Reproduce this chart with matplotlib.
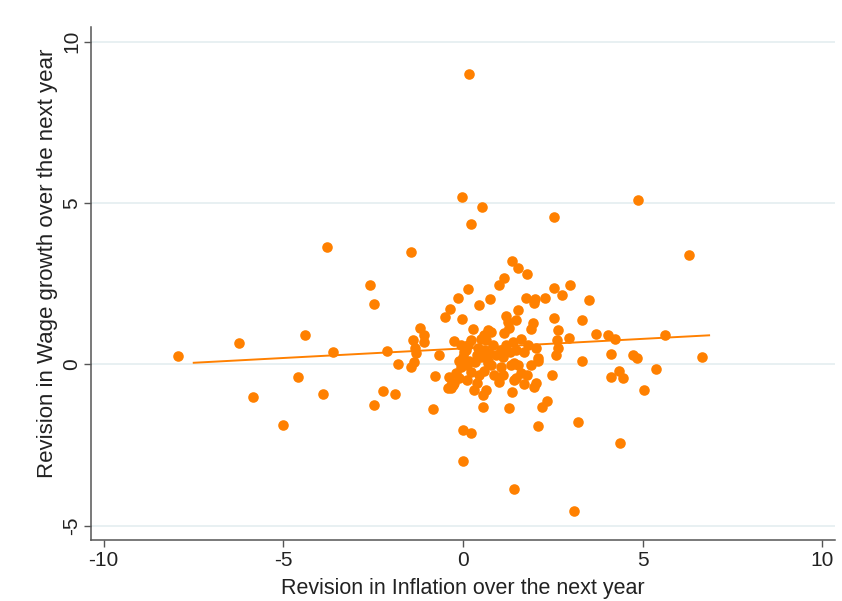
import numpy as np
import matplotlib
matplotlib.use("Agg")
import matplotlib.pyplot as plt

plt.rcParams["font.family"] = ["Liberation Sans", "DejaVu Sans"]
plt.rcParams["axes.unicode_minus"] = False

# revision in inflation (x) and wage growth (y) over the next year
infl = [
    -7.94, -6.24, -5.85, -5.01, -4.60, -4.40, -3.90, -3.79, -3.62, -2.59,
    -2.48, -2.48, -2.23, -2.12, -1.89, -1.81, -1.45, -1.45, -1.36, -1.39,
    -1.34, -1.31, -1.20, -1.09, -1.09, -0.78, -0.84, -0.67,
    -0.50, -0.36, -0.14, 0.14, -0.03, 0.45, 0.75, 1.00, 1.14, 1.36,
    1.53, 1.78, 1.75, 2.01, 1.98, 2.28, 2.53, 2.76, 2.98, 1.53,
    1.20, 1.25, 1.48, 1.28, 1.95, 1.89, 2.53, 2.65, 0.28, 0.70,
    0.78, 0.58, 0.50, 1.14, -0.25, 0.14, 0.08, 0.00, 0.17, 0.42,
    0.58, 0.72, 0.50, 0.70, 1.06, 1.11, 1.39, 1.62, 1.48, 2.03,
    2.09, 2.62, 2.65, 2.59, 2.95, 3.31, 3.31,
    -0.19, -0.06, -0.33, -0.25, -0.28, 0.22, 0.45, 0.58, 0.70, 0.31,
    0.56, 0.64, 0.56, 1.06, 1.11, 1.34, 1.53, 1.62, 1.48, 1.00,
    1.42, 1.70, 1.98, 2.03, 1.36, 1.28, 2.09, 2.20, 2.34, 2.48,
    2.09, 1.70, 1.42, 0.00, 0.22, 0.00, 3.20,
    -0.06, 0.03, -0.11, 0.11, 0.33, 0.39, 0.22, 0.64, 0.84, 0.92,
    0.78, 0.86, 0.39, 0.11, -0.11, -0.39, 1.20, 1.31, 1.81, 1.89,
    1.78, -0.42, -0.33,
    3.51, 3.70, 4.04, 4.23, 4.12, 4.12, 4.35, 4.46, 4.74, 4.85,
    5.04, 5.38, 5.63, 6.66, 4.37, 3.09, 1.42,
    0.17, -0.03, 0.53, 0.22, 2.53, 4.87, 6.30,
]
wage = [
    0.25, 0.65, -1.02, -1.88, -0.40, 0.90, -0.93, 3.64, 0.37, 2.47,
    1.88, -1.27, -0.83, 0.40, -0.93, 0.00, 3.49, -0.09, 0.06, 0.77,
    0.52, 0.34, 1.14, 0.90, 0.68, -0.37, -1.39, 0.28,
    1.48, 1.70, 2.07, 2.35, 1.42, 1.85, 2.04, 2.47, 2.69, 3.21,
    2.99, 2.81, 2.07, 2.01, 1.91, 2.07, 2.38, 2.16, 2.47, 1.67,
    1.51, 1.30, 1.36, 1.14, 1.27, 1.11, 1.45, 1.05, 1.11, 1.05,
    0.99, 0.90, 0.80, 0.96, 0.71, 0.59, 0.43, 0.22, 0.12, 0.52,
    0.43, 0.34, 0.22, 0.12, 0.43, 0.22, 0.68, 0.80, 0.43, 0.52,
    0.19, 0.74, 0.52, 0.28, 0.83, 1.39, 0.12,
    -0.28, -0.09, -0.74, -0.59, -0.65, -0.25, -0.34, -0.19, 0.03, -0.80,
    -0.96, -0.80, -1.33, -0.09, -0.34, -0.03, -0.03, -0.28, -0.43, -0.56,
    -0.49, -0.62, -0.71, -0.59, -0.86, -1.36, -1.91, -1.33, -1.14, -0.34,
    0.12, 0.37, 0.03, -2.04, -2.13, -2.99, -1.79,
    0.59, 0.37, 0.12, -0.03, 0.06, 0.28, 0.74, 0.74, 0.59, 0.28,
    -0.03, -0.34, -0.59, -0.49, -0.43, -0.40, 0.59, 0.37, 0.59, -0.03,
    -0.34, -0.74, -0.65,
    1.98, 0.93, 0.90, 0.80, 0.31, -0.40, -0.19, -0.43, 0.28, 0.19,
    -0.80, -0.15, 0.90, 0.22, -2.44, -4.54, -3.86,
    8.98, 5.19, 4.88, 4.35, 4.57, 5.09, 3.40,
]

# fitted line end points
fit_x = [-7.49, 6.85]
fit_y = [0.05, 0.90]

orange = "#ff8000"

fig = plt.figure(figsize=(8.42, 6.01), dpi=100)
ax = fig.add_axes([0.108, 0.1015, 0.884, 0.853])

ax.set_xlim(-10.35, 10.36)
ax.set_ylim(-5.44, 10.44)

ax.set_yticks([-5, 0, 5, 10])
ax.set_xticks([-10, -5, 0, 5, 10])
ax.yaxis.grid(True, color="#e8f0f2", linewidth=1.4)
ax.set_axisbelow(True)

ax.scatter(infl, wage, s=58, color=orange, linewidths=0, zorder=3)
ax.plot(fit_x, fit_y, color=orange, linewidth=1.4, zorder=4)

for side in ["top", "right"]:
    ax.spines[side].set_visible(False)
for side in ["left", "bottom"]:
    ax.spines[side].set_color("#555555")
    ax.spines[side].set_linewidth(1.1)

ax.tick_params(axis="both", direction="out", length=5, width=1.0,
               color="#555555", labelsize=15, labelcolor="#222222")
ax.tick_params(axis="x", pad=3)
ax.tick_params(axis="y", pad=2)
for lab in ax.get_yticklabels():
    lab.set_rotation(90)
    lab.set_va("center")

ax.set_xlabel("Revision in Inflation over the next year", fontsize=15.5,
              color="#222222", labelpad=6)
ax.set_ylabel("Revision in Wage growth over the next year", fontsize=16,
              color="#222222")
ax.yaxis.set_label_coords(-0.044, 0.54)

fig.savefig("out.png", dpi=100)
